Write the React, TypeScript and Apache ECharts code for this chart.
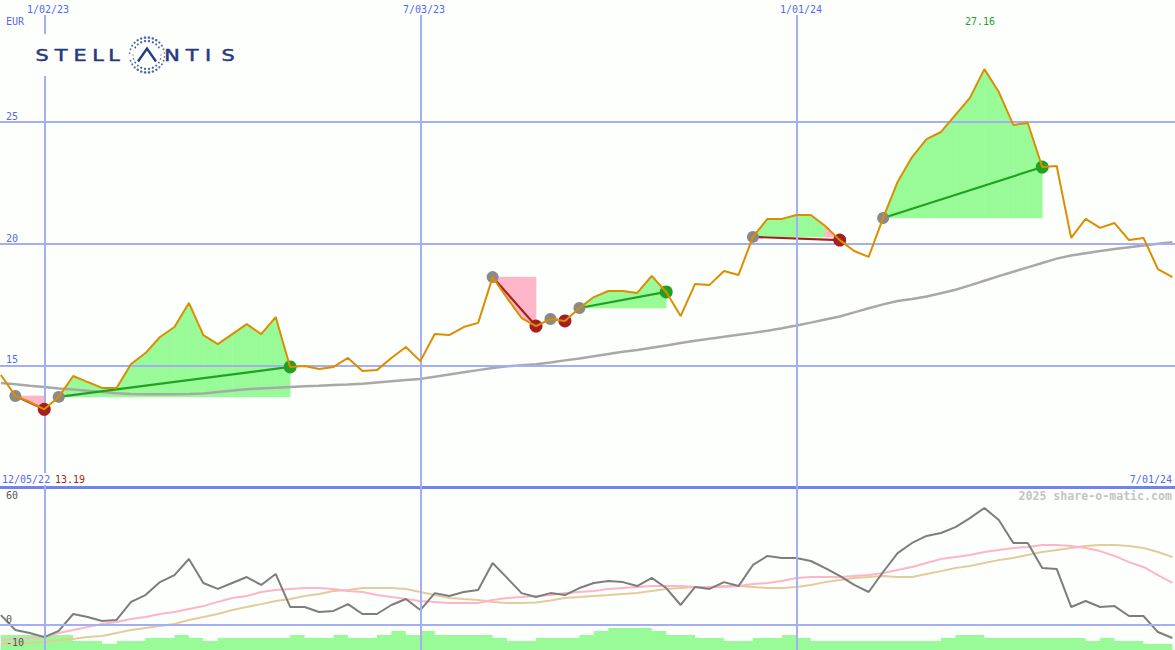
import React, { useEffect, useRef } from "react";
import * as echarts from "echarts";

// week index: 0 = 12/05/22, 4 = 1/02/23, 30 = 7/03/23, 56 = 1/01/24, 82 = 7/01/24
const weeks: number[] = [
  1, 2, 3, 4, 5, 6, 7, 8, 9, 10, 11, 12, 13, 14, 15, 16, 17, 18, 19, 20,
  21, 22, 23, 24, 25, 26, 27, 28, 29, 30, 31, 32, 33, 34, 35, 36, 37, 38, 39, 40,
  41, 42, 43, 44, 45, 46, 47, 48, 49, 50, 51, 52, 53, 54, 55, 56, 57, 58, 59, 60,
  61, 62, 63, 64, 65, 66, 67, 68, 69, 70, 71, 72, 73, 74, 75, 76, 77, 78, 79, 80,
  81, 82,
];

const price: number[] = [
  14.6, 13.74, 13.49, 13.19, 13.7, 14.56, 14.31, 14.07, 14.07, 15.05,
  15.5, 16.16, 16.57, 17.56, 16.24, 15.87, 16.28, 16.69, 16.28, 16.98,
  14.93, 14.97, 14.85, 14.93, 15.3, 14.76, 14.8, 15.3, 15.75, 15.17,
  16.28, 16.24, 16.57, 16.74, 18.62, 17.76, 16.94, 16.61, 16.9, 16.82,
  17.35, 17.8, 18.05, 18.05, 17.97, 18.67, 18.01, 17.02, 18.34, 18.3,
  18.87, 18.71, 20.27, 21.01, 21.01, 21.17, 21.17, 20.72, 20.14, 19.69,
  19.45, 21.05, 22.53, 23.55, 24.29, 24.58, 25.28, 25.98, 27.16, 26.22,
  24.87, 24.95, 23.14, 23.18, 20.23, 21.01, 20.64, 20.84, 20.14, 20.23,
  18.95, 18.62,
];

const priceAverage: number[] = [
  14.27, 14.22, 14.16, 14.11, 14.05, 14.0, 13.95, 13.9, 13.85, 13.82,
  13.81, 13.81, 13.81, 13.82, 13.84, 13.9, 13.96, 14.01, 14.05, 14.08,
  14.11, 14.14, 14.16, 14.19, 14.21, 14.24, 14.29, 14.34, 14.39, 14.44,
  14.53, 14.62, 14.71, 14.8, 14.89, 14.96, 15.0, 15.04, 15.11, 15.2,
  15.28, 15.37, 15.46, 15.55, 15.63, 15.72, 15.81, 15.91, 16.01, 16.09,
  16.17, 16.25, 16.33, 16.42, 16.52, 16.63, 16.75, 16.88, 17.0, 17.17,
  17.34, 17.5, 17.64, 17.72, 17.82, 17.96, 18.1, 18.28, 18.47, 18.66,
  18.84, 19.02, 19.2, 19.38, 19.51, 19.6, 19.69, 19.77, 19.85, 19.92,
  19.99, 20.05,
];

const oscillator: number[] = [
  4.5, -2.3, -3.6, -5.5, -2.7, 5.0, 3.6, 1.8, 2.3, 10.5,
  13.6, 19.5, 22.7, 30.0, 19.1, 16.4, 19.1, 21.8, 18.2, 23.2,
  8.2, 8.2, 5.9, 6.4, 9.5, 5.0, 5.0, 9.1, 11.8, 6.8,
  14.5, 13.2, 15.0, 15.9, 28.2, 21.4, 14.5, 12.7, 14.5, 13.6,
  16.8, 19.1, 20.0, 19.5, 17.7, 21.4, 16.8, 9.1, 17.3, 16.4,
  19.5, 17.7, 27.3, 31.4, 30.5, 30.5, 29.1, 25.9, 22.3, 18.2,
  15.0, 24.1, 32.7, 37.3, 40.5, 41.8, 44.5, 48.6, 53.2, 47.7,
  37.3, 37.3, 25.9, 25.5, 8.2, 10.9, 8.2, 8.6, 4.1, 4.1,
  -3.2, -5.9,
];

const oscillatorFast: number[] = [
  -6.8, -6.4, -5.9, -5.5, -3.6, -2.3, -0.9, 0.5, 1.4, 2.7,
  3.6, 5.0, 5.9, 7.3, 8.6, 10.5, 12.3, 13.2, 15.0, 15.9,
  16.4, 16.8, 16.8, 16.4, 15.5, 15.0, 13.6, 12.7, 11.8, 10.9,
  10.5, 10.0, 10.0, 10.0, 11.4, 12.3, 12.7, 13.2, 13.6, 14.5,
  15.0, 15.5, 16.4, 16.8, 17.3, 17.7, 17.7, 17.7, 17.3, 17.3,
  17.3, 17.7, 18.6, 19.1, 20.0, 21.4, 21.8, 21.8, 21.8, 22.3,
  22.7, 23.6, 25.0, 26.4, 28.2, 30.0, 30.9, 31.8, 33.2, 34.1,
  35.0, 35.5, 36.4, 36.4, 35.9, 35.0, 33.6, 31.4, 28.6, 26.4,
  22.7, 19.1,
];

const oscillatorSlow: number[] = [
  -8.6, -8.2, -8.2, -7.7, -6.8, -6.4, -5.5, -5.0, -3.6, -2.3,
  -1.4, -0.5, 0.5, 2.3, 3.6, 5.0, 6.8, 8.2, 9.5, 10.9,
  11.8, 13.2, 14.1, 15.5, 15.9, 16.8, 16.8, 16.8, 16.4, 15.0,
  13.6, 12.3, 11.8, 11.4, 10.5, 10.0, 10.0, 10.2, 11.1, 12.3,
  12.7, 13.2, 13.6, 14.1, 14.5, 15.5, 16.4, 16.8, 17.3, 17.3,
  17.7, 17.7, 17.3, 16.8, 16.8, 17.3, 18.2, 19.5, 20.5, 21.4,
  21.8, 22.3, 21.8, 21.8, 23.2, 24.5, 25.9, 26.8, 28.2, 29.5,
  30.5, 31.8, 33.2, 34.1, 35.0, 35.9, 36.4, 36.4, 35.9, 35.0,
  33.2, 30.9,
];

const volumeLevels: number[] = [
  15, 15, 15, 15, 15, 9, 9, 6, 9, 9,
  12, 12, 15, 12, 9, 12, 12, 12, 12, 12,
  15, 12, 12, 15, 12, 12, 15, 19, 15, 19,
  15, 15, 15, 15, 12, 9, 9, 12, 12, 12,
  15, 19, 22, 22, 22, 19, 15, 15, 12, 12,
  9, 9, 12, 12, 15, 12, 9, 9, 9, 9,
  9, 9, 9, 9, 9, 12, 15, 15, 12, 12,
  12, 12, 12, 12, 12, 9, 12, 9, 9, 6,
  6, 6,
];

const tradeEntryWeeks: number[] = [2, 5, 35, 39, 41, 53, 62];
const tradeExitWeeks: number[] = [4, 21, 38, 40, 47, 59, 73];

const dateTickWeeks: number[] = [4, 30, 56];
const dateTickLabels: string[] = ["1/02/23", "7/03/23", "1/01/24"];
const priceTicks: number[] = [25, 20, 15];
const oscTickLabels: string[] = ["60", "0", "-10"];
const startDateLabel = "12/05/22";
const endDateLabel = "7/01/24";
const lowLabel = "13.19";
const highLabel = "27.16";
const currencyLabel = "EUR";
const creditLabel = "2025 share-o-matic.com";
const logoLetters: string[] = ["S", "T", "E", "L", "L", "", "N", "T", "I", "S"];

const X_MIN = 0.94;
const X_MAX = 82.18;

const BG = "#fdfffd";
const GREEN_FILL = "#98fb98";
const PINK_FILL = "#ffb6c8";
const GREEN = "#22a022";
const RED = "#a51f1f";
const BLUE_TEXT = "#5468f0";
const GRID_BLUE = "#a4aef4";
const NAVY = "#263a80";
const MONO = '"DejaVu Sans Mono", monospace';

export default function App() {
  const ref = useRef<HTMLDivElement>(null);

  useEffect(() => {
    if (!ref.current) return;
    const chart = echarts.init(ref.current, null, { renderer: "svg" });

    const pricePts = weeks.map((w, i) => [w, price[i]]);
    const avgPts = weeks.map((w, i) => [w, priceAverage[i]]);
    const oscPts = weeks.map((w, i) => [w, oscillator[i]]);
    const fastPts = weeks.map((w, i) => [w, oscillatorFast[i]]);
    const slowPts = weeks.map((w, i) => [w, oscillatorSlow[i]]);
    const volPts = weeks.map((w, i) => [w, volumeLevels[i]]);
    const priceAt = (w: number) => price[weeks.indexOf(w)];

    const trades = tradeEntryWeeks.map((e, i) => {
      const x = tradeExitWeeks[i];
      return { e, x, pe: priceAt(e), px: priceAt(x), win: priceAt(x) >= priceAt(e) };
    });

    // logo graphic
    const logoChildren: any[] = [
      { type: "rect", silent: true, shape: { x: 30, y: 34, width: 212, height: 42 }, style: { fill: BG } },
    ];
    const letterX = [42, 61, 80, 98, 114, 0, 172, 192, 208, 228];
    logoLetters.forEach((ch, i) => {
      if (!ch) return;
      logoChildren.push({
        type: "text",
        x: letterX[i],
        y: 55,
        scaleX: 1.3,
        silent: true,
        style: {
          text: ch,
          fill: NAVY,
          stroke: NAVY,
          lineWidth: 0.5,
          font: '16px "DejaVu Sans"',
          textAlign: "center",
          textVerticalAlign: "middle",
        },
      });
    });
    const ringCx = 147;
    const ringCy = 55;
    logoChildren.push({
      type: "polyline",
      silent: true,
      shape: { points: [[ringCx - 9, ringCy + 6.5], [ringCx, ringCy - 6.5], [ringCx + 9, ringCy + 6.5]] },
      style: { stroke: NAVY, lineWidth: 2.4, fill: null },
    });
    [
      { r: 14, n: 22, s: 1.0 },
      { r: 17.5, n: 28, s: 1.1 },
    ].forEach((ring) => {
      for (let k = 0; k < ring.n; k++) {
        const a = (k / ring.n) * Math.PI * 2 + (ring.r > 15 ? 0.11 : 0);
        const dx = Math.cos(a);
        const dy = Math.sin(a);
        const size = ring.s * (0.6 + 0.6 * Math.abs(dy));
        logoChildren.push({
          type: "circle",
          silent: true,
          shape: { cx: ringCx + dx * ring.r, cy: ringCy + dy * ring.r, r: size },
          style: { fill: "#5666a8" },
        });
      }
    });

    const text = (t: string, x: number, y: number, opts: any = {}) => ({
      type: "text",
      x,
      y,
      z: 100,
      silent: true,
      style: {
        text: t,
        fill: opts.fill || BLUE_TEXT,
        font: opts.font || `10px ${MONO}`,
        textAlign: opts.align || "left",
        textVerticalAlign: "middle",
      },
    });
    const bgRect = (x: number, y: number, w: number, h: number) => ({
      type: "rect",
      z: 99,
      silent: true,
      shape: { x, y, width: w, height: h },
      style: { fill: BG },
    });

    const priceTickY = [116, 238, 359];
    const dateTickX = [27, 403, 780];

    const graphic: any[] = [
      ...dateTickX.map((x) => bgRect(x - 1, 0, 44, 15)),
      ...dateTickLabels.map((l, i) => text(l, dateTickX[i], 9)),
      text(currencyLabel, 6, 21.5),
      ...priceTicks.map((v, i) => text(String(v), 6, priceTickY[i])),
      bgRect(0, 473, 50, 12),
      text(startDateLabel, 2, 479),
      text(lowLabel, 55, 479, { fill: RED }),
      text(endDateLabel, 1172, 479, { align: "right" }),
      text(highLabel, 980, 21, { fill: GREEN, align: "center" }),
      text(creditLabel, 1172, 496, { fill: "#c4c4c4", align: "right", font: `bold 11.6px ${MONO}` }),
      text(oscTickLabels[0], 6, 495.5, { fill: "#555555" }),
      text(oscTickLabels[1], 6, 619, { fill: "#555555" }),
      text(oscTickLabels[2], 6, 642, { fill: "#555555" }),
      { type: "group", z: 98, children: logoChildren.map((c) => ({ ...c, z: 98 })) },
    ];

    const option: any = {
      animation: false,
      backgroundColor: BG,
      grid: [
        { left: 0, right: 0, top: 0, height: 487 },
        { left: 0, right: 0, top: 487, height: 163 },
      ],
      xAxis: [
        {
          gridIndex: 0,
          type: "value",
          min: X_MIN,
          max: X_MAX,
          axisLine: { show: true, onZero: false, lineStyle: { color: "#7383ec", width: 3 } },
          axisTick: { show: false },
          axisLabel: { show: false },
          splitLine: { show: false },
        },
        {
          gridIndex: 1,
          type: "value",
          min: X_MIN,
          max: X_MAX,
          show: false,
          splitLine: { show: false },
        },
      ],
      yAxis: [
        { gridIndex: 0, type: "value", min: 10, max: 30, show: false, splitLine: { show: false } },
        { gridIndex: 1, type: "value", min: -11.36, max: 62.73, show: false, splitLine: { show: false } },
        { gridIndex: 1, type: "value", min: 0, max: 163, show: false, splitLine: { show: false } },
      ],
      graphic,
      series: [
        {
          name: "gridTop",
          type: "line",
          xAxisIndex: 0,
          yAxisIndex: 0,
          data: pricePts,
          showSymbol: false,
          silent: true,
          lineStyle: { opacity: 0 },
          z: 1,
          markLine: {
            silent: true,
            symbol: ["none", "none"],
            label: { show: false },
            lineStyle: { color: GRID_BLUE, width: 2, type: "solid" },
            data: [
              ...priceTicks.map((v) => ({ yAxis: v })),
              ...dateTickWeeks.map((w) => ({ xAxis: w })),
            ],
          },
        },
        {
          name: "tradeArea",
          type: "custom",
          xAxisIndex: 0,
          yAxisIndex: 0,
          z: 2,
          silent: true,
          clip: false,
          data: trades.map((t) => [t.e, t.pe, t.x]),
          encode: { x: 0, y: 1 },
          renderItem: (params: any, api: any) => {
            const e = api.value(0);
            const pe = api.value(1);
            const x = api.value(2);
            const children: any[] = [];
            for (let w = e; w < x; w++) {
              const p0 = priceAt(w);
              const p1 = priceAt(w + 1);
              const color = p1 >= pe ? GREEN_FILL : PINK_FILL;
              children.push({
                type: "polygon",
                shape: {
                  points: [api.coord([w, pe]), api.coord([w, p0]), api.coord([w + 1, p1]), api.coord([w + 1, pe])],
                },
                style: { fill: color, stroke: color, lineWidth: 0.6 },
              });
            }
            return { type: "group", children };
          },
        },
        {
          name: "average",
          type: "line",
          xAxisIndex: 0,
          yAxisIndex: 0,
          data: avgPts,
          showSymbol: false,
          silent: true,
          z: 3,
          lineStyle: { color: "#a8a8a8", width: 2.5 },
        },
        {
          name: "tradeLines",
          type: "lines",
          coordinateSystem: "cartesian2d",
          xAxisIndex: 0,
          yAxisIndex: 0,
          z: 4,
          silent: true,
          lineStyle: { width: 2.2, opacity: 1 },
          data: trades.map((t) => ({
            coords: [
              [t.e, t.pe],
              [t.x, t.px],
            ],
            lineStyle: { color: t.win ? GREEN : RED },
          })),
        },
        {
          name: "entries",
          type: "scatter",
          xAxisIndex: 0,
          yAxisIndex: 0,
          z: 5,
          silent: true,
          symbolSize: 12,
          itemStyle: { color: "#8a8a8a", opacity: 1 },
          data: trades.map((t) => [t.e, t.pe]),
        },
        {
          name: "exits",
          type: "scatter",
          xAxisIndex: 0,
          yAxisIndex: 0,
          z: 5,
          silent: true,
          symbolSize: 13,
          data: trades.map((t) => ({ value: [t.x, t.px], itemStyle: { color: t.win ? GREEN : RED, opacity: 1 } })),
        },
        {
          name: "price",
          type: "line",
          xAxisIndex: 0,
          yAxisIndex: 0,
          data: pricePts,
          showSymbol: false,
          silent: true,
          z: 6,
          lineStyle: { color: "#dc8d00", width: 2 },
        },
        {
          name: "gridBottom",
          type: "line",
          xAxisIndex: 1,
          yAxisIndex: 1,
          data: oscPts,
          showSymbol: false,
          silent: true,
          lineStyle: { opacity: 0 },
          z: 1,
          markLine: {
            silent: true,
            symbol: ["none", "none"],
            label: { show: false },
            lineStyle: { color: GRID_BLUE, width: 2, type: "solid" },
            data: [{ yAxis: 0 }, ...dateTickWeeks.map((w) => ({ xAxis: w }))],
          },
        },
        {
          name: "volume",
          type: "line",
          step: "end",
          xAxisIndex: 1,
          yAxisIndex: 2,
          data: volPts,
          showSymbol: false,
          silent: true,
          z: 2,
          lineStyle: { width: 0, color: GREEN_FILL },
          areaStyle: { color: GREEN_FILL, opacity: 1, origin: "start" },
        },
        {
          name: "slow",
          type: "line",
          xAxisIndex: 1,
          yAxisIndex: 1,
          data: slowPts,
          showSymbol: false,
          silent: true,
          z: 3,
          lineStyle: { color: "#e3cb9d", width: 2 },
        },
        {
          name: "fast",
          type: "line",
          xAxisIndex: 1,
          yAxisIndex: 1,
          data: fastPts,
          showSymbol: false,
          silent: true,
          z: 3,
          lineStyle: { color: "#ffb4c8", width: 2 },
        },
        {
          name: "oscillator",
          type: "line",
          xAxisIndex: 1,
          yAxisIndex: 1,
          data: oscPts,
          showSymbol: false,
          silent: true,
          z: 4,
          lineStyle: { color: "#7d7d7d", width: 2 },
        },
      ],
    };

    chart.setOption(option);
    return () => chart.dispose();
  }, []);

  return (
    <div
      ref={ref}
      style={{ position: "absolute", left: 0, top: 0, width: 1175, height: 650, background: BG }}
    />
  );
}
